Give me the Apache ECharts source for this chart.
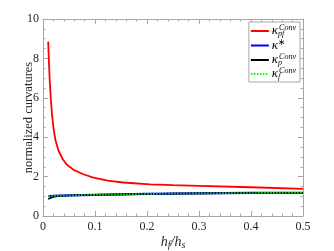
<!DOCTYPE html>
<html><head><meta charset="utf-8">
<script src="https://cdn.jsdelivr.net/npm/echarts@6/dist/echarts.min.js"></script>
<style>html,body{margin:0;padding:0;background:#fff}#c{width:334px;height:251px}</style>
</head><body><div id="c"></div>
<script>
const xTicks = [0, 0.1, 0.2, 0.3, 0.4, 0.5];
const yTicks = [0, 2, 4, 6, 8, 10];
const seriesNames = ['kpfConv', 'kstar', 'kpConv', 'kfConv'];
const redX = [0.0100,0.0115,0.0130,0.0150,0.0175,0.0205,0.0240,0.0300,0.0380,0.0460,0.0596,0.0775,0.097,0.125,0.154,0.206,0.25,0.30,0.40,0.50];
const redY = [8.85,7.75,6.85,5.95,5.10,4.40,3.85,3.30,2.88,2.60,2.33,2.12,1.95,1.80,1.70,1.61,1.57,1.53,1.46,1.38];
const blueX = [0.01,0.02,0.03,0.05,0.075,0.1,0.15,0.2,0.25,0.3,0.4,0.5];
const blueY = [1.01,1.02,1.03,1.045,1.06,1.075,1.10,1.12,1.135,1.15,1.17,1.18];
const blackX = [0.01,0.013,0.016,0.02,0.025,0.03,0.05,0.075,0.1,0.15,0.2,0.25,0.3,0.4,0.5];
const blackY = [0.86,0.90,0.93,0.96,0.99,1.01,1.04,1.06,1.075,1.10,1.12,1.135,1.15,1.17,1.18];
const greenX = blueX;
const greenY = blueY;

const zip = (xs, ys) => xs.map((x, i) => [x, ys[i]]);
const serif = 'Liberation Serif';
const legendRich = {
  k: {fontFamily: serif, fontSize: 13, fontStyle: 'italic', color: '#000', lineHeight: 13},
  sub: {fontFamily: serif, fontSize: 8, fontStyle: 'italic', color: '#000', padding: [5,0,0,0], width: 1, lineHeight: 8},
  sup: {fontFamily: serif, fontSize: 8, fontStyle: 'italic', color: '#000', padding: [0,0,6,0], lineHeight: 8},
  star: {fontFamily: 'DejaVu Sans', fontSize: 9, color: '#000', padding: [0,0,6,0], lineHeight: 8}
};
const legendLabels = {
  kpfConv: '{k|κ}{sub|pf}{sup|Conv}',
  kstar: '{k|κ}{star|∗}',
  kpConv: '{k|κ}{sub|p}{sup|Conv}',
  kfConv: '{k|κ}{sub|f}{sup|Conv}'
};
const solidIcon = 'path://M0,0H18V2H0Z';
const dotIcon = 'path://M0,0H1.5V2H0Z M3,0H4.5V2H3Z M6,0H7.5V2H6Z M9,0H10.5V2H9Z M12,0H13.5V2H12Z M15,0H16.5V2H15Z M18,0H18V2H18Z';
const tickColor = '#262626';
const frame = '#a6a6a6';
const baseAxis = (type) => ({
  type: 'value',
  axisLine: {show: true, onZero: false, lineStyle: {color: frame, width: 1}},
  axisTick: {show: true, inside: true, length: 5, lineStyle: {color: frame}},
  minorTick: {show: true, splitNumber: type === 'x' ? 5 : 4, length: 2.5, lineStyle: {color: frame}},
  splitLine: {show: false}
});
const chart = echarts.init(document.getElementById('c'));
chart.setOption({
  animation: false,
  backgroundColor: '#fff',
  grid: {left: 43, right: 31, top: 19, bottom: 35, containLabel: false, outerBoundsMode: 'none'},
  legend: {
    orient: 'vertical', right: 34, top: 22,
    backgroundColor: '#fff', borderColor: frame, borderWidth: 1,
    padding: [2, 4, 1, 2], itemGap: 0, itemWidth: 18, itemHeight: 2,
    data: seriesNames.map((n, i) => ({name: n, icon: i === 3 ? dotIcon : solidIcon})),
    formatter: n => legendLabels[n],
    textStyle: {rich: legendRich, lineHeight: 13, padding: [0,0,0,-2]}
  },
  xAxis: [
    Object.assign(baseAxis('x'), {
      position: 'bottom', min: xTicks[0], max: xTicks[xTicks.length-1], interval: 0.1,
      axisLabel: {color: tickColor, fontFamily: serif, fontSize: 12, margin: 5,
        formatter: v => xTicks.some(t => Math.abs(t - v) < 1e-9) ? String(+v.toFixed(1)) : ''},
      name: '{i|h}{s|f}{i|/h}{s|s}', nameLocation: 'middle', nameGap: 18, nameMoveOverlap: false,
      nameTextStyle: {rich: {
        i: {fontFamily: serif, fontSize: 14, fontStyle: 'italic', color: tickColor},
        s: {fontFamily: serif, fontSize: 10, fontStyle: 'italic', color: tickColor, padding: [6,0,0,0]}
      }}
    }),
    Object.assign(baseAxis('x'), {
      position: 'top', min: 0, max: 0.5, interval: 0.1, axisLabel: {show: false}
    })
  ],
  yAxis: [
    Object.assign(baseAxis('y'), {
      position: 'left', min: yTicks[0], max: yTicks[yTicks.length-1], interval: 2,
      axisLabel: {color: tickColor, fontFamily: serif, fontSize: 12, margin: 4},
      name: 'normalized curvatures', nameLocation: 'middle', nameGap: 8, nameMoveOverlap: false,
      nameTextStyle: {color: tickColor, fontFamily: serif, fontSize: 12.5}
    }),
    Object.assign(baseAxis('y'), {
      position: 'right', min: 0, max: 10, interval: 2, axisLabel: {show: false}
    })
  ],
  series: [
    {name: 'kpfConv', type: 'line', symbol: 'none', data: zip(redX, redY), lineStyle: {color: '#ff0000', width: 1.8}, itemStyle: {color: '#ff0000'}},
    {name: 'kstar', type: 'line', symbol: 'none', data: zip(blueX, blueY), lineStyle: {color: '#0000ff', width: 2.2}, itemStyle: {color: '#0000ff'}},
    {name: 'kpConv', type: 'line', symbol: 'none', data: zip(blackX, blackY), lineStyle: {color: '#000000', width: 1.6}, itemStyle: {color: '#000'}},
    {name: 'kfConv', type: 'line', symbol: 'none', data: zip(greenX, greenY), lineStyle: {color: '#00ff00', width: 1.6, type: [1.5, 1.5]}, itemStyle: {color: '#00ff00'}}
  ]
});
</script></body></html>
